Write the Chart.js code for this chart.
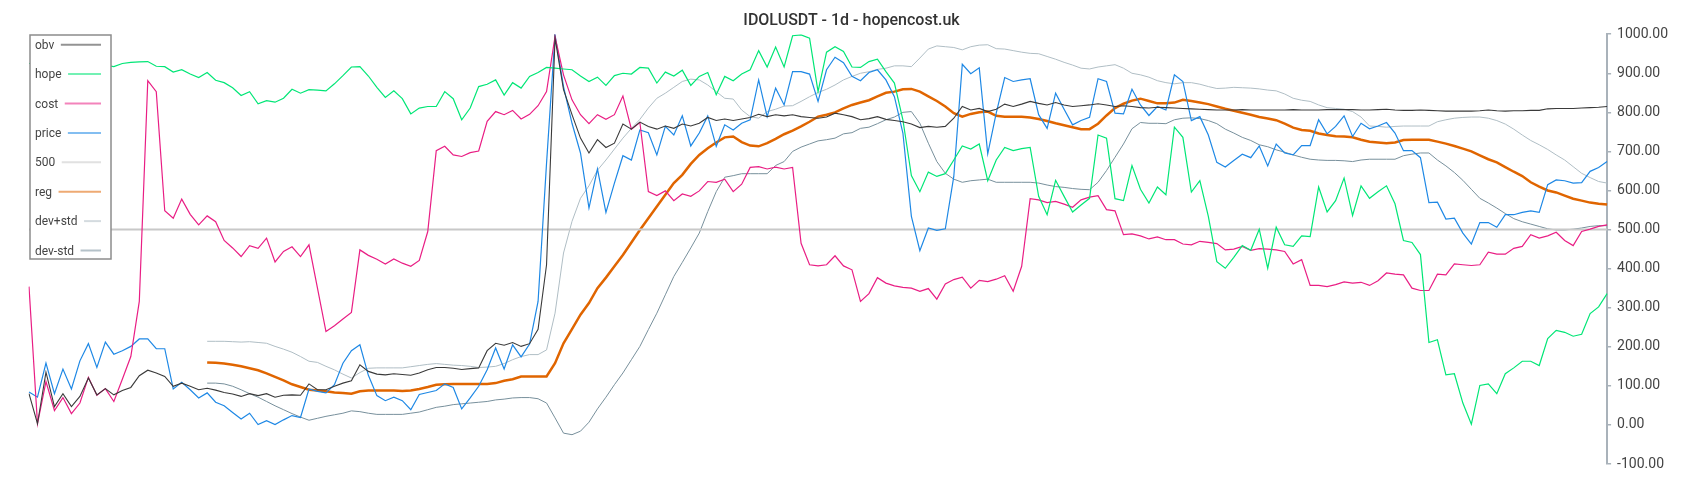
<!DOCTYPE html>
<html>
<head>
<meta charset="utf-8">
<script src="https://cdn.jsdelivr.net/npm/chart.js@4.4.0/dist/chart.umd.min.js"></script>
<style>
  html, body { margin: 0; padding: 0; background: #fff; }
  #wrap { width: 1700px; height: 500px; position: relative; }
</style>
</head>
<body>
<div id="wrap"><canvas id="hopeChart"></canvas></div>
<script>
const obv = [80, 3, 135, 47, 80, 47, 73, 120, 77, 93, 77, 88, 96, 126, 140, 133, 124, 99, 107, 99, 90, 94, 89,
  83, 79, 73, 80, 75, 80, 71, 76, 77, 76, 105, 90, 90, 99, 107, 113, 154, 137, 130, 128, 131, 129, 127,
  133, 141, 147, 147, 145, 142, 144, 146, 190, 209, 204, 211, 201, 208, 245, 410, 990, 858, 794, 734, 696, 730,
  710, 721, 770, 757, 775, 764, 757, 765, 759, 770, 765, 772, 787, 779, 783, 779, 783, 787, 795, 789, 794, 791,
  794, 789, 787, 785, 788, 798, 794, 789, 781, 784, 789, 782, 779, 776, 770, 761, 764, 762, 764, 785, 815, 806, 810,
  802, 808, 821, 815, 821, 828, 823, 819, 825, 819, 815, 817, 819, 822, 819, 815, 817, 815, 812, 811, 813, 812,
  811, 810, 809, 808, 807, 806, 806, 806, 807, 806, 806, 806, 806, 806, 807, 806, 806, 806, 807, 807,
  807, 807, 806, 806, 807, 808, 806, 805, 805, 806, 805, 804, 803, 803, 803, 803, 804, 806, 804, 803,
  804, 804, 805, 805, 809, 810, 810, 810, 811, 812, 813, 815]

const hope = [925, 928, 930, 926, 922, 925, 930, 932, 928, 920,
  917, 925, 928, 929, 930, 918, 917, 903, 909, 898, 889, 902, 882,
  876, 863, 843, 853, 822, 830, 826, 836, 859, 849, 858, 857, 855, 873, 894, 916, 917, 893, 864, 838, 855, 835, 796,
  811, 815, 815, 853, 835, 781, 811, 866, 872, 883, 844, 876, 862, 892, 902, 915, 913, 911, 909, 893, 879, 890,
  869, 894, 900, 898, 915, 913, 875, 903, 893, 908, 869, 892, 902, 845, 892, 881, 898, 909, 958, 916, 967, 916,
  996, 998, 990, 853, 954, 968, 956, 916, 915, 930, 936, 904, 875, 781, 638, 597, 647, 636, 643, 678, 714, 706, 719,
  625, 678, 710, 702, 707, 710, 585, 538, 626, 585, 545, 563, 580, 742, 734, 579, 574, 664, 603, 568, 609, 589,
  762, 736, 596, 625, 534, 418, 401, 429, 459, 447, 501, 401, 506, 461, 457, 484, 482, 609, 545, 574, 632, 536,
  612, 580, 597, 612, 566, 472, 467, 436, 211, 218, 128, 131, 56, 2, 101, 105, 80, 131, 146, 163, 163, 152, 221,
  242, 237, 227, 232, 285, 302, 336]

const cost = [354, 3, 111, 37, 70, 29, 56, 122, 76, 93, 60, 117, 175, 316, 881, 853, 548, 529, 578, 539, 512, 535, 520,
  472, 453, 431, 459, 452, 478, 417, 444, 456, 431, 461, 350, 239, 254, 271, 288, 448, 434, 424, 412, 425, 414, 406,
  421, 495, 702, 713, 691, 687, 697, 701, 777, 802, 794, 805, 783, 795, 817, 853, 994, 896, 832, 794, 771, 794,
  782, 794, 842, 757, 774, 597, 587, 599, 574, 591, 585, 599, 623, 621, 629, 597, 616, 659, 661, 655, 660, 655,
  659, 465, 410, 407, 410, 433, 407, 397, 316, 336, 377, 363, 356, 352, 350, 342, 349, 322, 361, 372, 378, 350, 370,
  367, 373, 382, 342, 406, 579, 576, 569, 572, 565, 557, 576, 583, 587, 551, 548, 487, 489, 484, 476, 481, 474,
  474, 463, 461, 470, 467, 464, 448, 450, 457, 447, 451, 450, 448, 444, 412, 423, 357, 357, 354, 359, 366, 363,
  365, 357, 369, 389, 386, 384, 350, 344, 344, 386, 384, 412, 410, 408, 410, 442, 437,
  437, 452, 457, 487, 478, 484, 493, 472, 459, 495, 501, 508, 512]

const price = [84, 71, 158, 80, 143, 92, 164, 208, 147, 212, 181, 190, 201, 220, 220, 195, 195, 92, 109, 90, 69, 82, 58,
  49, 32, 15, 30, 1, 11, 1, 13, 24, 19, 92, 86, 82, 103, 158, 190, 205, 127, 75, 62, 71, 62, 39,
  78, 83, 88, 105, 96, 41, 69, 99, 141, 197, 143, 205, 174, 207, 316, 670, 998, 866, 772, 696, 555, 655,
  544, 619, 689, 678, 755, 748, 691, 764, 742, 791, 714, 747, 791, 713, 768, 755, 772, 781, 883, 789, 862, 819,
  904, 904, 898, 828, 909, 941, 927, 892, 881, 902, 909, 883, 840, 747, 534, 446, 504, 498, 502, 636, 923, 899, 914,
  694, 798, 889, 879, 883, 886, 794, 759, 849, 808, 768, 779, 787, 886, 879, 798, 796, 859, 819, 792, 815, 806,
  896, 879, 779, 789, 742, 672, 660, 677, 693, 684, 714, 663, 719, 696, 691, 715, 715, 781, 745, 764, 791, 738,
  772, 758, 765, 774, 747, 702, 702, 684, 569, 570, 527, 529, 491, 463, 518, 518, 506, 538, 538, 544, 548, 544, 615,
  627, 625, 619, 620, 649, 659, 674]

const reg = [null, null, null, null, null, null, null, null, null, null, null, null, null, null, null, null, null, null, null, null, null,
  160, 159, 157, 154, 150, 145, 140, 132, 123, 114, 104, 97, 90, 88, 86, 83, 82, 80, 86, 88, 88, 88, 88, 87, 88,
  92, 97, 103, 104, 105, 105, 105, 105, 105, 107, 113, 117, 124, 124, 124, 124, 158, 209, 245, 282, 312, 350,
  377, 406, 435, 467, 499, 529, 559, 589, 619, 640, 668, 691, 708, 723, 736, 738, 724, 715, 713, 721, 732, 744,
  753, 764, 776, 789, 794, 800, 810, 819, 825, 831, 841, 850, 853, 859, 860, 853, 841, 829, 815, 798, 789, 796, 800,
  802, 791, 789, 789, 789, 787, 783, 778, 772, 767, 762, 757, 757, 771, 792, 811, 822, 830, 835, 829, 823, 823,
  825, 832, 829, 825, 821, 815, 809, 804, 799, 794, 788, 784, 780, 771, 761, 755, 753, 746, 742, 739, 738, 736,
  730, 725, 723, 721, 723, 729, 730, 730, 730, 725, 720, 714, 707, 700, 690, 680, 672,
  660, 648, 637, 621, 610, 600, 595, 587, 579, 574, 569, 566, 564]

const devPlus = [null, null, null, null, null, null, null, null, null, null, null, null, null, null, null, null, null, null, null, null, null,
  214, 214, 214, 213, 212, 213, 211, 209, 201, 194, 186, 175, 163, 160, 150, 141, 130, 120, 134, 145, 146, 146, 146, 146, 149,
  152, 155, 157, 155, 153, 152, 150, 147, 148, 150, 157, 167, 175, 180, 180, 192, 286, 440, 521, 580, 612, 652,
  678, 706, 734, 759, 782, 811, 836, 849, 864, 879, 885, 883, 870, 853, 836, 834, 806, 789, 785, 802, 808, 816,
  817, 828, 840, 851, 859, 870, 883, 892, 900, 904, 910, 913, 919, 919, 917, 939, 962, 970, 968, 966, 960, 968, 972,
  973, 963, 962, 958, 954, 951, 950, 943, 936, 928, 921, 913, 911, 916, 919, 922, 913, 900, 896, 890, 881, 876,
  873, 876, 876, 872, 866, 861, 862, 864, 863, 862, 860, 857, 855, 847, 836, 831, 828, 819, 812, 810, 808, 802,
  788, 765, 764, 762, 764, 765, 765, 765, 765, 776, 781, 785, 787, 788, 788, 785, 779,
  770, 757, 742, 728, 717, 705, 691, 678, 661, 644, 633, 623, 619]

const devMinus = [null, null, null, null, null, null, null, null, null, null, null, null, null, null, null, null, null, null, null, null, null,
  107, 107, 105, 99, 90, 80, 71, 60, 49, 39, 29, 20, 12, 17, 22, 26, 30, 36, 34, 30, 27, 27, 27, 27, 30,
  33, 39, 45, 48, 52, 54, 56, 58, 60, 64, 66, 69, 70, 70, 67, 56, 18, -21, -25, -16, 7, 41,
  71, 103, 133, 167, 201, 244, 286, 333, 380, 416, 453, 491, 546, 597, 634, 638, 643, 643, 643, 643, 664, 674,
  700, 711, 719, 727, 730, 734, 745, 748, 759, 762, 771, 781, 788, 800, 802, 772, 721, 674, 644, 629, 621, 625, 627,
  629, 621, 621, 621, 621, 621, 619, 614, 610, 608, 605, 603, 602, 621, 651, 685, 719, 758, 774, 772, 772, 771,
  781, 785, 786, 784, 779, 771, 757, 747, 736, 728, 717, 712, 704, 698, 691, 685, 680, 678, 677, 677, 676, 674,
  678, 680, 680, 680, 680, 689, 693, 696, 696, 678, 663, 646, 626, 603, 580, 568, 555,
  541, 528, 520, 514, 508, 502, 499, 499, 501, 504, 508, 510, 510]

const level = 500
const days = Array.from({ length: price.length }, (_, i) => i + 1)
const yTicks = { min: -100, max: 1000, step: 100 }

Chart.defaults.font.family = 'Roboto'

// legend is drawn as a bordered box over the lines, text left of the sample
const boxLegend = {
  id: 'boxLegend',
  afterDatasetsDraw(chart) {
    const ctx = chart.ctx
    const x = 30, y = 35, w = 81, h = 224
    ctx.save()
    ctx.fillStyle = '#fff'
    ctx.fillRect(x, y, w, h)
    ctx.strokeStyle = '#8c8c8c'
    ctx.lineWidth = 1.5
    ctx.strokeRect(x, y, w, h)
    ctx.font = '12px Roboto'
    ctx.textBaseline = 'middle'
    chart.data.datasets.forEach((ds, i) => {
      const cy = y + 9.7 + i * 29.4
      ctx.globalAlpha = 1
      ctx.fillStyle = '#444'
      ctx.fillText(ds.label, x + 5, cy + 1)
      const tw = ctx.measureText(ds.label).width
      ctx.globalAlpha = 0.55
      ctx.strokeStyle = ds.borderColor
      ctx.lineWidth = 2
      ctx.beginPath()
      ctx.moveTo(x + 5 + tw + 6.5, cy)
      ctx.lineTo(x + w - 10, cy)
      ctx.stroke()
    })
    ctx.restore()
  }
}

const config = {
  type: 'line',
  data: {
    labels: days,
    datasets: [
      { label: 'obv', data: obv, borderColor: '#3a3a3a', borderWidth: 1.1 },
      { label: 'hope', data: hope, borderColor: '#00e676', borderWidth: 1.2 },
      { label: 'cost', data: cost, borderColor: '#e91e84', borderWidth: 1.2 },
      { label: 'price', data: price, borderColor: '#1e88e5', borderWidth: 1.2 },
      { label: '500', data: days.map(() => level), borderColor: '#c8c8c8', borderWidth: 2 },
      { label: 'reg', data: reg, borderColor: '#e06500', borderWidth: 2.5 },
      { label: 'dev+std', data: devPlus, borderColor: '#b0bec5', borderWidth: 1 },
      { label: 'dev-std', data: devMinus, borderColor: '#78909c', borderWidth: 1 }
    ]
  },
  options: {
    responsive: true,
    maintainAspectRatio: false,
    animation: false,
    devicePixelRatio: 1,
    elements: {
      point: { radius: 0, hoverRadius: 0 },
      line: { tension: 0, fill: false }
    },
    layout: {
      padding: { left: 29, right: 26, top: 0, bottom: 36 }
    },
    scales: {
      x: { display: false },
      y: {
        position: 'right',
        min: yTicks.min,
        max: yTicks.max,
        ticks: {
          stepSize: yTicks.step,
          padding: 6,
          color: '#444',
          font: { size: 14 },
          callback: v => v.toFixed(2)
        },
        grid: {
          drawOnChartArea: false,
          tickLength: 4,
          color: '#a9b2ba',
          lineWidth: 1.5
        },
        border: { color: '#a9b2ba', width: 2 }
      }
    },
    plugins: {
      legend: { display: false },
      tooltip: { enabled: false },
      title: {
        display: true,
        text: 'IDOLUSDT - 1d - hopencost.uk',
        color: '#333',
        font: { size: 16, weight: 500 },
        padding: { top: 11, bottom: 4 }
      }
    }
  },
  plugins: [boxLegend]
}

var myChart = new Chart(document.getElementById('hopeChart'), config)
</script>
</body>
</html>
